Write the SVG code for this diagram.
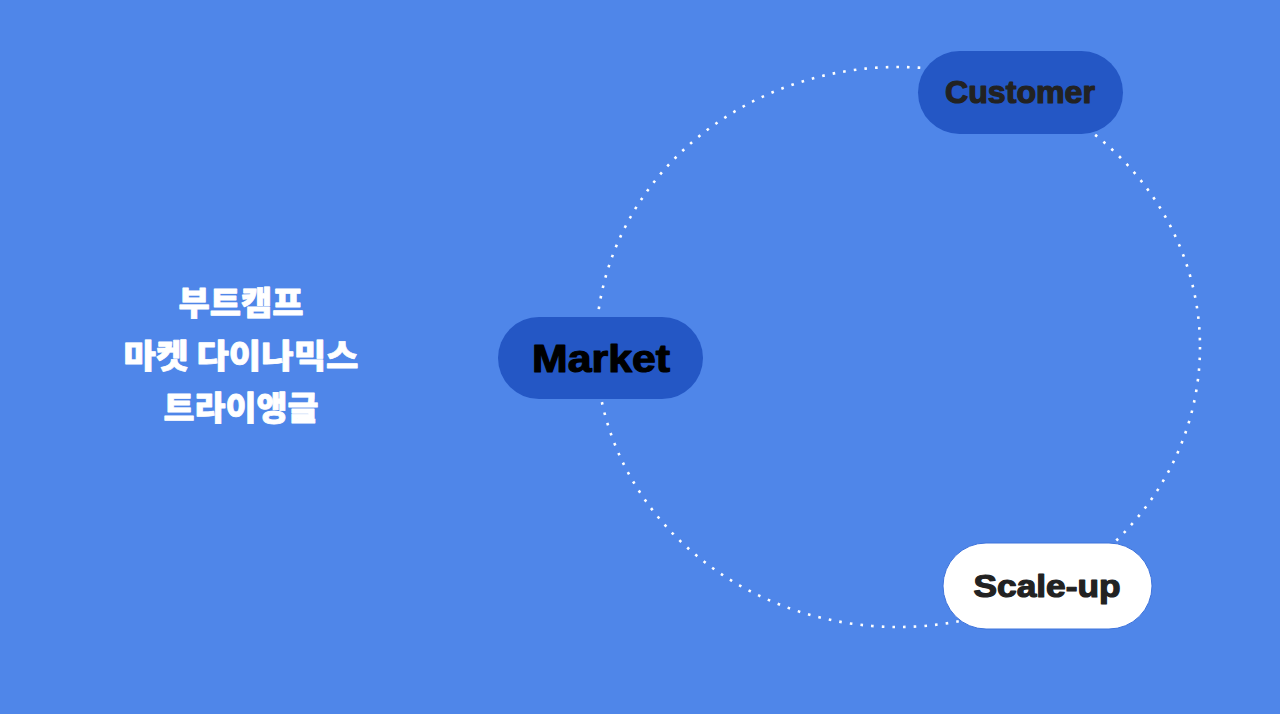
<svg xmlns="http://www.w3.org/2000/svg" width="1280" height="714" viewBox="0 0 1280 714">
  <style>
    .pill { fill: #2457c5; }
    .lbl { font-family: "Liberation Sans", "DejaVu Sans", sans-serif; font-weight: 700; text-anchor: middle; stroke-width: 1.2; stroke-linejoin: round; }
    .ko { font-family: "Noto Sans CJK KR", "Noto Sans", sans-serif; font-weight: 900; font-size: 33px; fill: #ffffff; text-anchor: middle; stroke: #ffffff; stroke-width: 0.8; stroke-linejoin: round; }
  </style>
  <rect x="0" y="0" width="1280" height="714" fill="#4f86e9"/>
  <g id="connectors">
    <ellipse cx="898" cy="347" rx="302" ry="280" fill="none" stroke="#ffffff" stroke-width="2.6" stroke-dasharray="2.6 8.1"/>
  </g>
  <g id="title">
    <text class="ko" x="241" y="315" textLength="125" lengthAdjust="spacingAndGlyphs">부트캠프</text>
    <text class="ko" x="241" y="368" textLength="235" lengthAdjust="spacingAndGlyphs">마켓 다이나믹스</text>
    <text class="ko" x="241" y="420" textLength="155" lengthAdjust="spacingAndGlyphs">트라이앵글</text>
  </g>
  <g id="customer">
    <rect class="pill" x="918" y="51" width="205" height="83" rx="41.5"/>
    <text class="lbl" x="1020" y="103" font-size="32" fill="#222222" stroke="#222222" textLength="150" lengthAdjust="spacingAndGlyphs">Customer</text>
  </g>
  <g id="market">
    <rect class="pill" x="498" y="317" width="205" height="82" rx="41"/>
    <text class="lbl" x="601" y="372" font-size="38" fill="#000000" stroke="#000000" textLength="138" lengthAdjust="spacingAndGlyphs">Market</text>
  </g>
  <g id="scaleup">
    <rect x="943" y="543" width="209" height="86" rx="43" fill="#ffffff" stroke="#3f74dc" stroke-width="1"/>
    <text class="lbl" x="1047" y="597" font-size="31" fill="#222222" stroke="#222222" textLength="147" lengthAdjust="spacingAndGlyphs">Scale-up</text>
  </g>
</svg>
